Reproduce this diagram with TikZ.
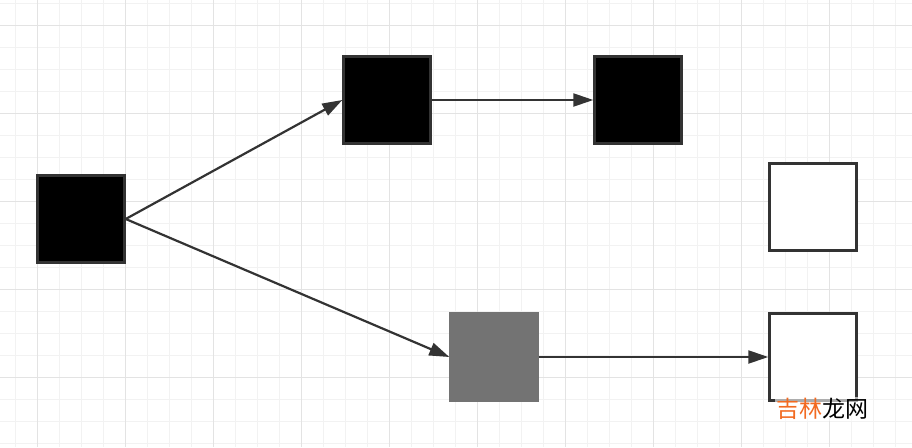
\documentclass[tikz,border=0pt]{standalone}
\usepackage{fontspec}
\newfontfamily\cjk{Noto Sans CJK SC}
\usetikzlibrary{arrows.meta}
\definecolor{gridminor}{HTML}{F2F2F2}
\definecolor{gridmajor}{HTML}{E3E3E3}
\definecolor{edgegray}{HTML}{333333}
\definecolor{midgray}{HTML}{737373}
\definecolor{markorange}{HTML}{F26A21}
\begin{document}
\begin{tikzpicture}[
          x=1pt, y=-1pt,
          block/.style={draw=edgegray, line width=2.4pt, minimum size=87pt, inner sep=0pt},
          dark/.style={block, fill=black},
          light/.style={block, fill=white},
          grey/.style={block, draw=midgray, fill=midgray},
          link/.style={draw=edgegray, line width=2.2pt, -{Triangle[length=20pt,width=13pt]}}
        ]
        \useasboundingbox (0,0) rectangle (912,447);
        \fill[white] (0,0) rectangle (912,447);
        \foreach \x in {15.7,37.7,...,912} \draw[gridminor, line width=1.2pt] (\x,0) -- (\x,447);
        \foreach \y in {3.7,25.7,...,447} \draw[gridminor, line width=1.2pt] (0,\y) -- (912,\y);
        \foreach \x in {37.7,125.7,...,912} \draw[gridmajor, line width=1.4pt] (\x,0) -- (\x,447);
        \foreach \y in {25.7,113.7,...,447} \draw[gridmajor, line width=1.4pt] (0,\y) -- (912,\y);
        \node[dark] (src) at (81,219) {};
        \node[dark] (up) at (387,100) {};
        \node[dark] (upend) at (638,100) {};
        \node[light] (spare) at (813,207) {};
        \node[grey] (mid) at (494,357) {};
        \node[light] (last) at (813,357) {};
        \draw[link] (src.east) -- (up.west);
        \draw[link] (up.east) -- (upend.west);
        \draw[link] (src.east) -- (mid.west);
        \draw[link] (mid.east) -- (last.west);
        \node[anchor=north west, fill=white, fill opacity=0.6, text opacity=1, inner sep=1pt] (mark) at (775,397)
          {\cjk\fontsize{23}{23}\selectfont\textcolor{markorange}{吉林}龙网};
\end{tikzpicture}
\end{document}
